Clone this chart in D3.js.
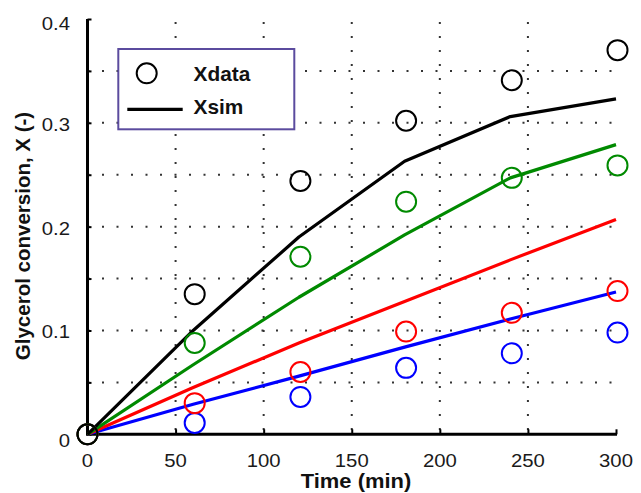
<!DOCTYPE html>
<html><head><meta charset="utf-8">
<script src="https://cdn.jsdelivr.net/npm/d3@7"></script>
<style>html,body{margin:0;padding:0;background:#fff;}svg{display:block;}</style>
</head><body>
<script>
const times = [0, 60, 120, 180, 240, 300];
const seriesNames = ["black", "green", "red", "blue"];
const seriesColors = ["#000000", "#008a00", "#ff0000", "#0000ff"];
const xdataBlack = [0, 0.135, 0.244, 0.302, 0.341, 0.370];
const xdataGreen = [0, 0.088, 0.171, 0.224, 0.247, 0.259];
const xdataRed   = [0, 0.030, 0.060, 0.099, 0.117, 0.138];
const xdataBlue  = [0, 0.011, 0.036, 0.064, 0.078, 0.098];
const xsimBlack  = [0, 0.100, 0.190, 0.263, 0.306, 0.323];
const xsimGreen  = [0, 0.067, 0.132, 0.192, 0.247, 0.279];
const xsimRed    = [0, 0.045, 0.088, 0.128, 0.168, 0.207];
const xsimBlue   = [0, 0.029, 0.056, 0.084, 0.111, 0.137];
const xTickValues = [0, 50, 100, 150, 200, 250, 300];
const yTickValues = [0, 0.1, 0.2, 0.3, 0.4];
const yTickLabels = ["0", "0.1", "0.2", "0.3", "0.4"];
const xGridValues = [50, 100, 150, 200, 250];
const yGridValues = [0.05, 0.1, 0.15, 0.2, 0.25, 0.3, 0.35];
const legendLabels = ["Xdata", "Xsim"];
const xTitle = "Time (min)";
const yTitle = "Glycerol conversion, X (-)";

const W = 641, H = 493;
const x = d3.scaleLinear().domain([0, 300]).range([87.5, 616]);
const y = d3.scaleLinear().domain([0, 0.4]).range([434.3, 19]);

const svg = d3.select("body").append("svg").attr("width", W).attr("height", H);
const SX = 1.07;
const font = "'Liberation Sans', Arial, sans-serif";

// grid
const grid = svg.append("g").attr("stroke", "#333").attr("stroke-width", 2);
grid.selectAll("line.v").data(xGridValues).join("line")
  .attr("x1", d => x(d)).attr("x2", d => x(d))
  .attr("y1", y(0.4) + 3).attr("y2", y(0))
  .attr("stroke-dasharray", "2,12");
grid.selectAll("line.h").data(yGridValues).join("line")
  .attr("x1", x(0)).attr("x2", x(300))
  .attr("y1", d => y(d)).attr("y2", d => y(d))
  .attr("stroke-dasharray", "2,12.5");

// axes
const xAxis = d3.axisBottom(x).tickValues(xTickValues).tickSize(-5).tickFormat("");
const gx = svg.append("g").attr("transform", `translate(0,${y(0)})`).call(xAxis);
gx.select(".domain").attr("stroke", "#000").attr("stroke-width", 3).attr("d", `M${x(0)},0H${x(300)+1}`);
gx.selectAll(".tick line").attr("stroke", "#000").attr("stroke-width", 2);

const yAxis = d3.axisLeft(y).tickValues(d3.range(0, 0.401, 0.05)).tickSize(-4).tickFormat("");
const gy = svg.append("g").attr("transform", `translate(${x(0)},0)`).call(yAxis);
gy.select(".domain").attr("stroke", "#000").attr("stroke-width", 3).attr("d", `M0,${y(0.4)}V${y(0)+1.5}`);
gy.selectAll(".tick line").attr("stroke", "#000").attr("stroke-width", 2);

// tick labels
svg.selectAll("text.xt").data(xTickValues).join("text")
  .attr("transform", d => `translate(${x(d)},467) scale(${SX},1)`)
  .attr("text-anchor", "middle").attr("font-family", font).attr("font-size", 19)
  .attr("fill", "#1a1a1a").text(d => d);
svg.selectAll("text.yt").data(yTickValues).join("text")
  .attr("transform", (d, i) => `translate(70,${y(d) + 8 + (i === 0 ? 5 : 0) + (i === 4 ? 3 : 0)}) scale(${SX},1)`)
  .attr("text-anchor", "end").attr("font-family", font).attr("font-size", 19)
  .attr("fill", "#1a1a1a").text((d, i) => yTickLabels[i]);

// titles
svg.append("text").attr("transform", `translate(356,488) scale(${SX},1)`)
  .attr("text-anchor", "middle").attr("font-family", font).attr("font-weight", "bold")
  .attr("font-size", 20.5).attr("fill", "#111").text(xTitle);
svg.append("text").attr("transform", `translate(30,236) rotate(-90)`)
  .attr("text-anchor", "middle").attr("font-family", font).attr("font-weight", "bold")
  .attr("font-size", 20.5).attr("fill", "#111").text(yTitle);

// series
const sims = [xsimBlack, xsimGreen, xsimRed, xsimBlue];
const datas = [xdataBlack, xdataGreen, xdataRed, xdataBlue];
const line = d3.line().x(d => x(d[0])).y(d => y(d[1]));
const order = [3, 2, 1, 0];
order.forEach(i => {
  svg.append("path").datum(times.map((t, j) => [t, sims[i][j]]))
    .attr("fill", "none").attr("stroke", seriesColors[i]).attr("stroke-width", 3.2)
    .attr("stroke-linejoin", "round").attr("d", line);
});
order.forEach(i => {
  svg.append("g").selectAll("circle").data(times.map((t, j) => [t, datas[i][j]])).join("circle")
    .attr("cx", d => x(d[0]) + (d[0] > 0 ? 1.5 : 0)).attr("cy", d => y(d[1]))
    .attr("r", 10).attr("fill", "none").attr("stroke", seriesColors[i]).attr("stroke-width", 2);
});

// legend
const lg = svg.append("g");
lg.append("rect").attr("x", 118.3).attr("y", 49).attr("width", 176).attr("height", 80.3)
  .attr("fill", "#fff").attr("stroke", "#5b4b9e").attr("stroke-width", 2);
lg.append("circle").attr("cx", 146.7).attr("cy", 73.3).attr("r", 10)
  .attr("fill", "none").attr("stroke", "#000").attr("stroke-width", 2);
lg.append("line").attr("x1", 127.3).attr("x2", 182.7).attr("y1", 109.3).attr("y2", 109.3)
  .attr("stroke", "#000").attr("stroke-width", 3.2);
lg.selectAll("text").data(legendLabels).join("text")
  .attr("transform", (d, i) => `translate(193.5,${i === 0 ? 80.5 : 114}) scale(${SX},1)`)
  .attr("font-family", font).attr("font-weight", "bold").attr("font-size", 19.5)
  .attr("fill", "#111").text(d => d);
</script>
</body></html>
